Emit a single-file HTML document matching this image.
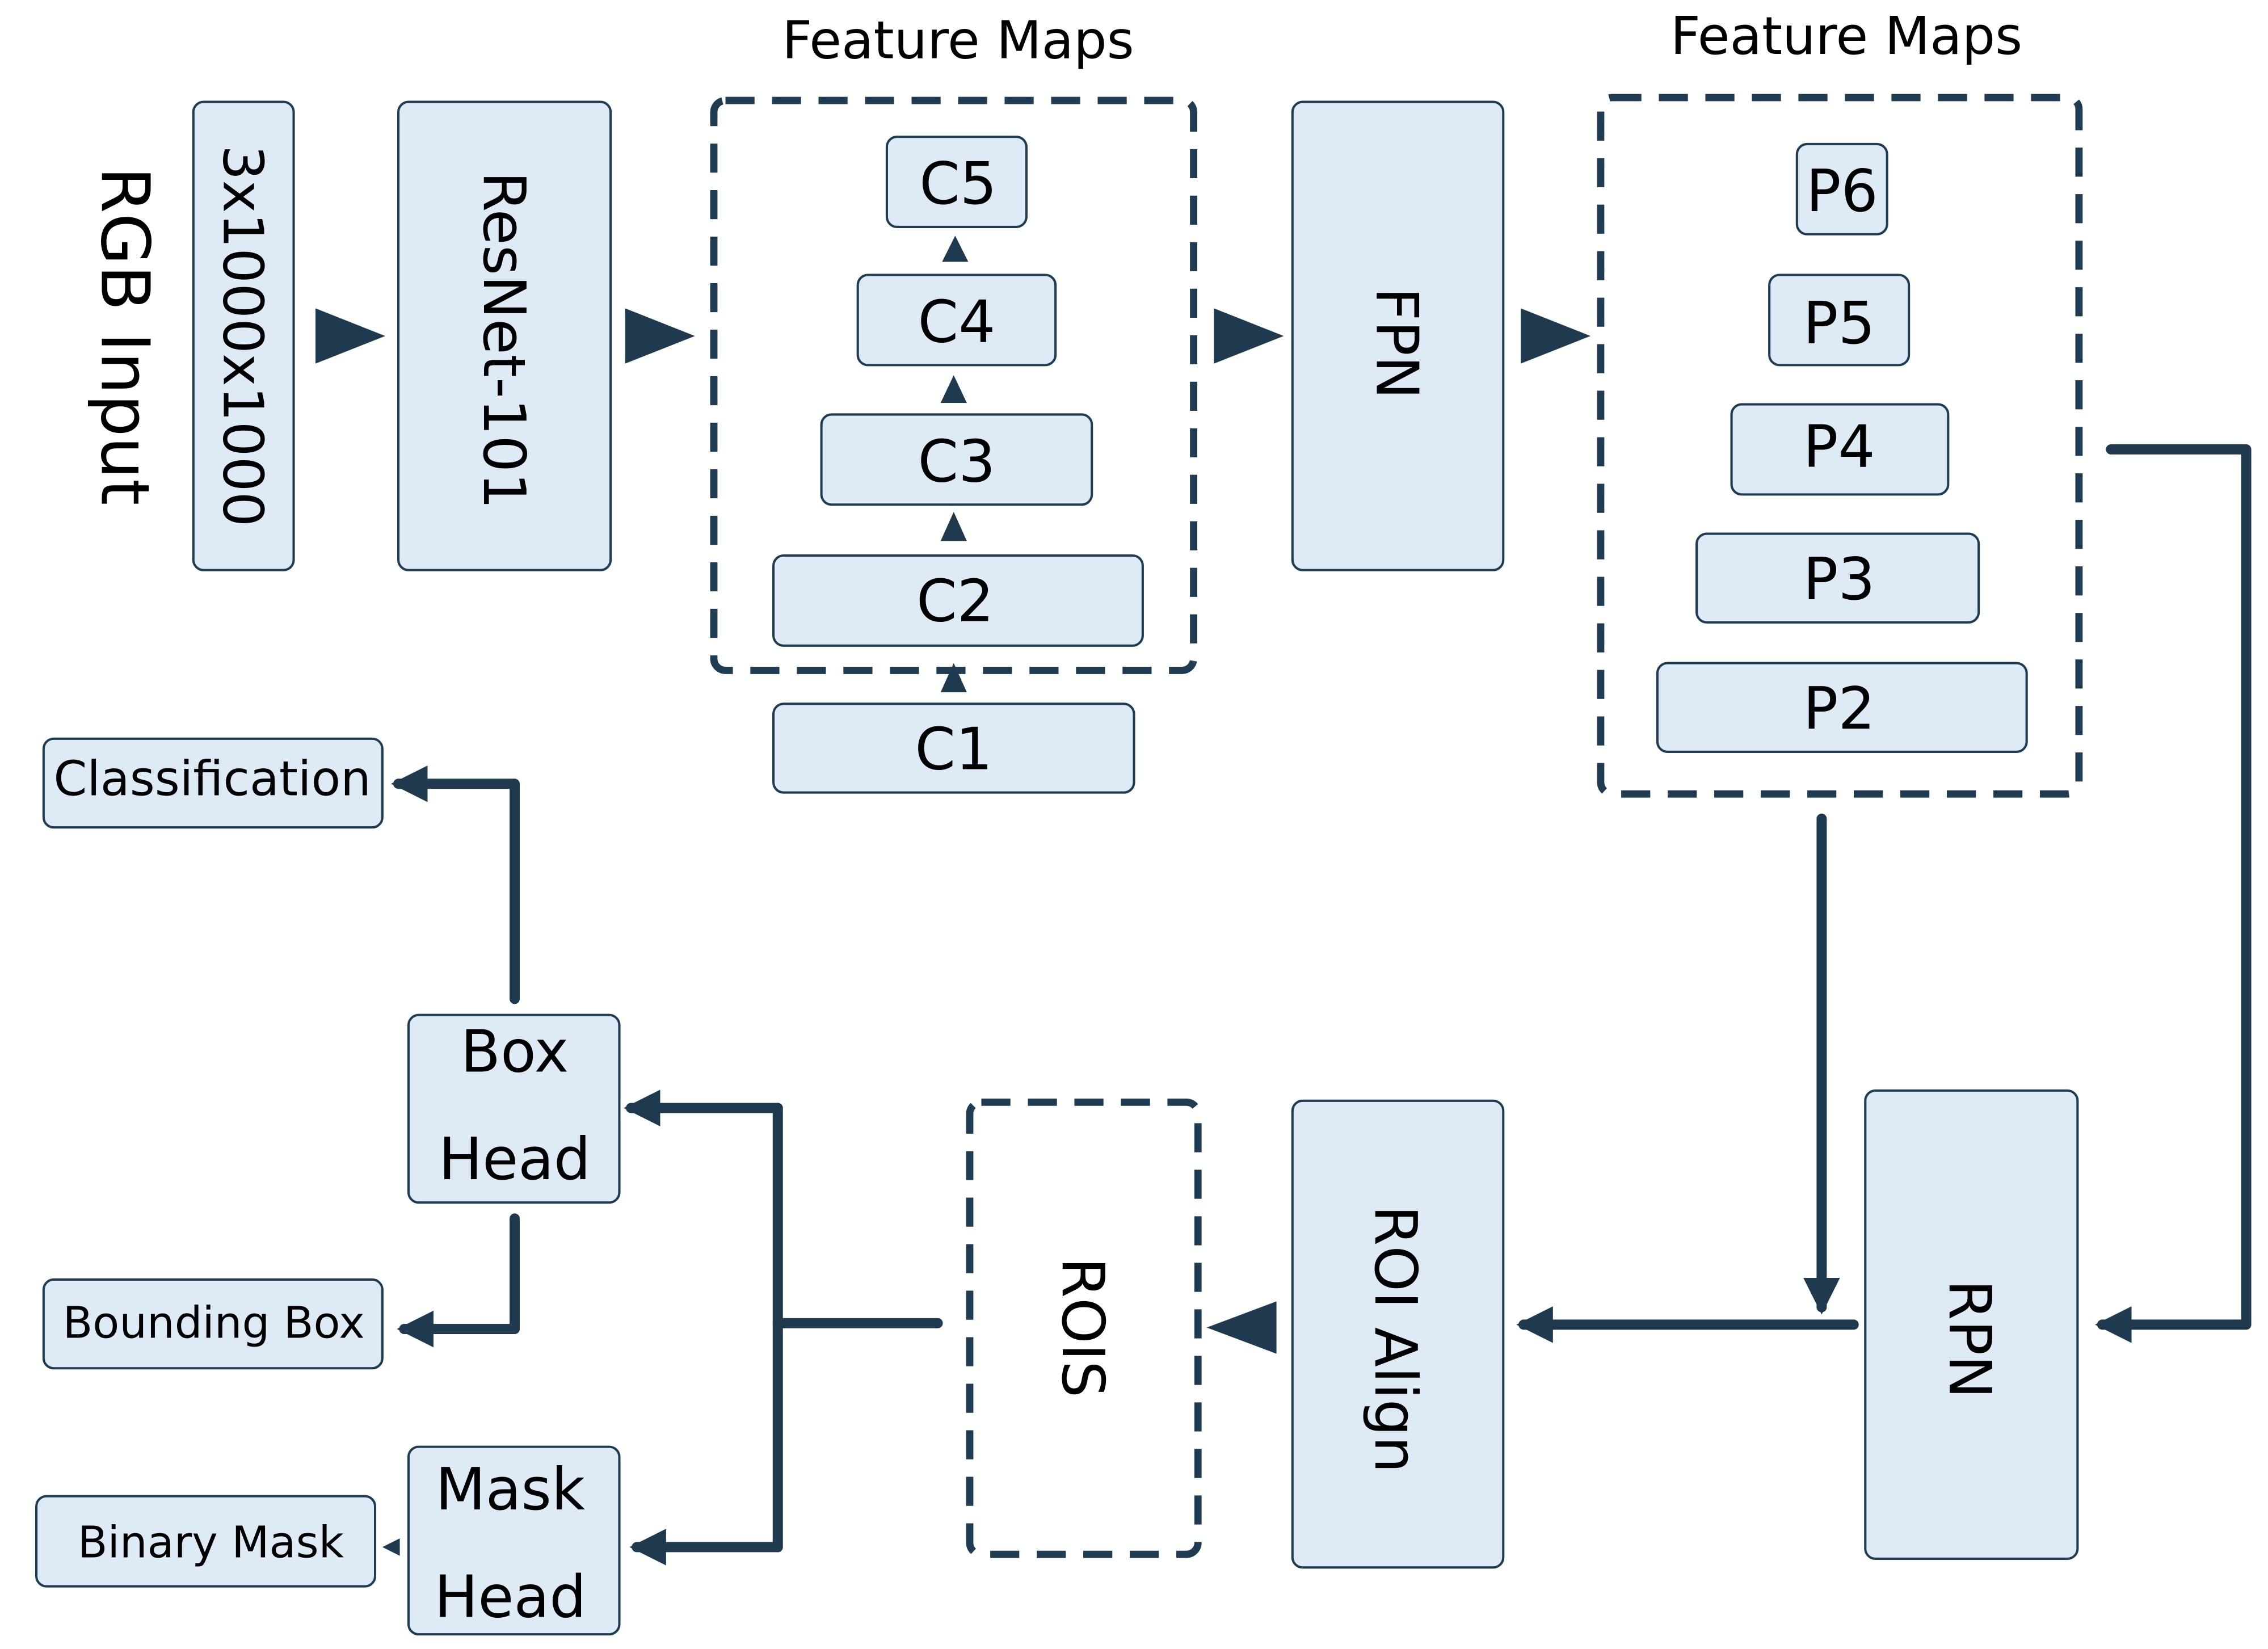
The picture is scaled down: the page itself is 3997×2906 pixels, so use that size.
<!DOCTYPE html>
<html><head><meta charset="utf-8"><style>html,body{margin:0;padding:0;background:#fff}svg{display:block}</style></head>
<body>
<svg xmlns="http://www.w3.org/2000/svg" width="3997" height="2906" viewBox="0 0 1560 1134" font-family="'DejaVu Sans','Liberation Sans',sans-serif">
<defs>
<marker id="ah" viewBox="0 0 10 10" refX="8" refY="5" markerWidth="3.6" markerHeight="3.6" orient="auto" markerUnits="strokeWidth"><path d="M0,0 L10,5 L0,10 z" fill="#1f3a4f"/></marker>
</defs>
<rect width="1560" height="1134" fill="#fff"/>
<g fill="#deebf7" stroke="#203c52" stroke-width="1.6">
<rect x="133" y="70" width="69" height="322" rx="7"/>
<rect x="274" y="70" width="146" height="322" rx="7"/>
<rect x="610" y="94" width="96" height="62" rx="7"/>
<rect x="590" y="189" width="136" height="62" rx="7"/>
<rect x="565" y="285" width="186" height="62" rx="7"/>
<rect x="532" y="382" width="254" height="62" rx="7"/>
<rect x="532" y="484" width="248" height="61" rx="7"/>
<rect x="889" y="70" width="145" height="322" rx="7"/>
<rect x="1236" y="99" width="62" height="62" rx="7"/>
<rect x="1217" y="189" width="96" height="62" rx="7"/>
<rect x="1191" y="278" width="149" height="62" rx="7"/>
<rect x="1167" y="367" width="194" height="61" rx="7"/>
<rect x="1140" y="456" width="254" height="61" rx="7"/>
<rect x="1283" y="750" width="146" height="322" rx="7"/>
<rect x="889" y="757" width="145" height="321" rx="7"/>
<rect x="281" y="698" width="145" height="129" rx="7"/>
<rect x="281" y="995" width="145" height="129" rx="7"/>
<rect x="30" y="508" width="233" height="61" rx="7"/>
<rect x="30" y="880" width="233" height="61" rx="7"/>
<rect x="25" y="1029" width="233" height="62" rx="7"/>
</g>
<g fill="none" stroke="#203c52" stroke-width="5" stroke-dasharray="20,12">
<rect x="491" y="69" width="330" height="392" rx="8"/>
<rect x="1101" y="67" width="329" height="479" rx="8"/>
<rect x="667" y="758" width="157" height="311" rx="8"/>
</g>
<g fill="#1f3a4f">
<path d="M217,212 L265,231 L217,250 z"/>
<path d="M430,212 L478,231 L430,250 z"/>
<path d="M835,212 L883,231 L835,250 z"/>
<path d="M1046,212 L1094,231 L1046,250 z"/>
<path d="M878,895 L830,913 L878,931 z"/>
<path d="M648,180 L666,180 L657,162 z"/>
<path d="M647,277 L665,277 L656,258 z"/>
<path d="M647,372 L665,372 L656,352 z"/>
<path d="M647,476 L665,476 L656,456 z"/>
<path d="M275,1058 L263,1064 L275,1070 z"/>
</g>
<g fill="none" stroke="#1f3a4f" stroke-width="7" stroke-linecap="round" stroke-linejoin="round">
<path d="M1452,309 L1545,309 L1545,911 L1446,911" marker-end="url(#ah)"/>
<path d="M1253,563 L1253,899" marker-end="url(#ah)"/>
<path d="M1275,911 L1048,911" marker-end="url(#ah)"/>
<path d="M645,910 L535,910"/>
<path d="M535,762 L535,1064"/>
<path d="M535,762 L434,762" marker-end="url(#ah)"/>
<path d="M535,1064 L438,1064" marker-end="url(#ah)"/>
<path d="M354,687 L354,539 L274,539" marker-end="url(#ah)"/>
<path d="M354,838 L354,914 L278,914" marker-end="url(#ah)"/>
</g>
<g fill="#000" text-anchor="middle">
<text x="659" y="40" font-size="36">Feature Maps</text>
<text x="1270" y="37" font-size="36">Feature Maps</text>
<text transform="translate(70,231) rotate(90)" font-size="46">RGB Input</text>
<text transform="translate(154,231) rotate(90)" font-size="38">3x1000x1000</text>
<text transform="translate(333,234) rotate(90)" font-size="40">ResNet-101</text>
<text transform="translate(947,236) rotate(90)" font-size="40">FPN</text>
<text transform="translate(1341,921) rotate(90)" font-size="40">RPN</text>
<text transform="translate(946,921) rotate(90)" font-size="40">ROI Align</text>
<text transform="translate(731,913) rotate(90)" font-size="40">ROIS</text>
<g font-size="40">
<text x="659" y="140">C5</text>
<text x="658" y="235">C4</text>
<text x="658" y="331">C3</text>
<text x="657" y="427">C2</text>
<text x="656" y="529">C1</text>
<text x="1267" y="145">P6</text>
<text x="1265" y="236">P5</text>
<text x="1265" y="321">P4</text>
<text x="1265" y="412">P3</text>
<text x="1265" y="501">P2</text>
<text x="354" y="737">Box</text>
<text x="354" y="811">Head</text>
<text x="351" y="1038">Mask</text>
<text x="351" y="1112">Head</text>
</g>
<text x="146" y="547" font-size="33">Classification</text>
<text x="147" y="920" font-size="30">Bounding Box</text>
<text x="145" y="1071" font-size="30">Binary Mask</text>
</g>
</svg>
</body></html>
